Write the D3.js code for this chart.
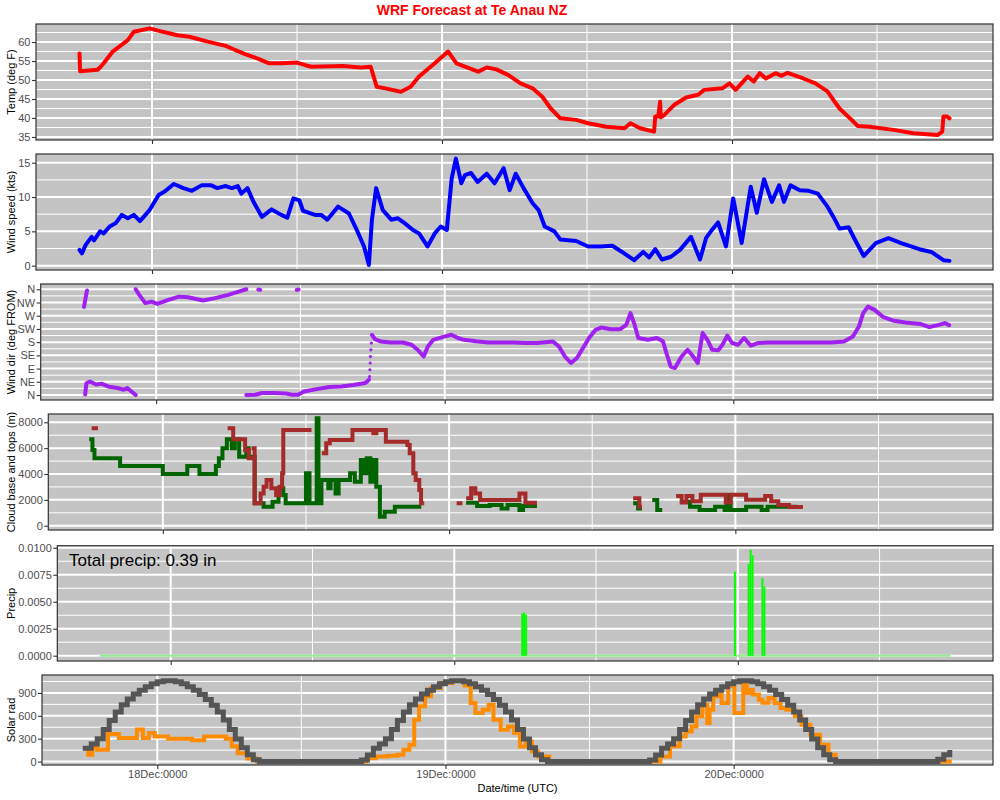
<!DOCTYPE html>
<html><head><meta charset="utf-8">
<script src="https://cdn.jsdelivr.net/npm/d3@7"></script>
<style>body{margin:0;background:#fff}svg{display:block}</style>
</head><body><svg id="c" width="1000" height="800"></svg>
<script>
// ---------- DATA (hours after 17Dec 18:00 UTC) ----------
const titleText = "WRF Forecast at Te Anau NZ";
const xTickHours = [6, 30, 54];
const xMinorHours = [18, 42, 66];
const xTickLabels = ["18Dec:0000", "19Dec:0000", "20Dec:0000"];
const xTitle = "Date/time (UTC)";
const precipNote = "Total precip: 0.39 in";

const tempTicks = [35, 40, 45, 50, 55, 60];
const windTicks = [0, 5, 10, 15];
const dirTicks = [0, 45, 90, 135, 180, 225, 270, 315, 360];
const dirLabels = ["N", "NE", "E", "SE", "S", "SW", "W", "NW", "N"];
const cloudTicks = [0, 2000, 4000, 6000, 8000];
const precipTicks = [0, 0.0025, 0.005, 0.0075, 0.01];
const solarTicks = [0, 300, 600, 900];

const tempF = [[0,57.0],[0.05,52.3],[1.5,52.7],[1.75,53.5],[2.0,54.4],[2.75,57.5],[4.0,60.5],[4.5,62.7],[5.8,63.6],[6.5,63.0],[8.1,61.8],[9.1,61.4],[10.6,60.1],[12.1,59.0],[12.6,58.3],[13.7,56.8],[14.7,55.7],[15.7,54.4],[16.7,54.4],[18.0,54.6],[18.7,53.9],[19.2,53.5],[21.8,53.7],[23.3,53.3],[24.1,53.5],[24.6,48.2],[25.3,47.8],[26.6,46.9],[27.4,48.2],[28.1,50.9],[29.4,54.4],[30.5,57.5],[31.2,54.4],[31.9,53.5],[33.0,52.2],[33.7,53.3],[34.5,52.8],[35.5,51.3],[36.5,49.1],[37.5,47.8],[38.3,45.6],[39.0,42.5],[39.8,39.9],[41.1,39.5],[42.1,38.6],[43.6,37.7],[45.1,37.3],[45.6,38.6],[46.4,37.3],[47.55,36.4],[47.65,40.4],[47.9,40.4],[48.05,44.3],[48.1,40.2],[48.4,40.8],[49.2,43.4],[50.2,45.4],[51.2,46.1],[51.7,47.4],[53.2,47.8],[53.8,49.1],[54.3,47.4],[55.3,50.9],[55.8,49.6],[56.3,51.8],[56.8,50.4],[57.6,51.8],[58.1,51.1],[58.6,51.9],[59.9,50.4],[60.9,49.1],[61.9,47.0],[62.4,44.7],[62.9,42.5],[63.9,39.5],[64.4,37.9],[65.4,37.7],[67.5,36.8],[69.0,36.0],[71.0,35.5],[71.4,36.4],[71.5,40.4],[71.8,40.4],[72.0,39.9]];

const windKts = [[0,2.3],[0.2,1.8],[0.5,3.0],[1.0,4.2],[1.2,3.7],[1.7,5.0],[2.0,4.7],[2.5,5.7],[3.0,6.2],[3.5,7.4],[4.0,6.9],[4.5,7.4],[5.0,6.5],[5.8,8.1],[6.55,10.3],[7.05,10.8],[7.8,11.9],[8.6,11.3],[9.3,10.9],[10.1,11.7],[10.9,11.7],[11.4,11.3],[12.1,11.6],[12.6,11.3],[13.1,11.6],[13.4,10.5],[13.9,11.3],[14.4,9.3],[15.1,7.1],[15.9,8.2],[16.7,7.4],[17.2,7.0],[17.7,9.8],[18.2,9.5],[18.5,8.0],[19.0,7.7],[19.5,7.4],[20.0,7.4],[20.5,6.7],[21.4,8.6],[22.3,7.6],[23.0,5.0],[23.55,2.8],[23.95,0.1],[24.2,6.7],[24.55,11.3],[25.1,8.1],[25.8,6.7],[26.35,6.9],[26.9,6.2],[27.6,5.2],[28.1,4.7],[28.8,2.8],[29.4,4.7],[29.9,5.7],[30.4,5.2],[30.8,12.7],[31.15,15.6],[31.6,12.0],[31.9,13.2],[32.4,13.5],[32.95,12.2],[33.7,13.4],[34.35,12.0],[35.1,14.2],[35.6,11.0],[36.1,13.4],[36.75,11.3],[37.5,9.1],[38.0,8.1],[38.5,5.7],[39.3,5.0],[39.8,3.8],[41.1,3.6],[42.1,2.8],[43.1,2.8],[44.1,2.9],[44.9,2.0],[45.9,0.8],[46.65,2.0],[47.15,1.2],[47.65,2.4],[48.2,0.9],[48.95,1.3],[49.7,2.3],[50.6,4.2],[51.35,0.9],[51.85,4.0],[52.25,5.0],[52.85,6.3],[53.5,2.8],[54.1,9.8],[54.8,3.3],[55.55,11.5],[56.05,7.7],[56.65,12.6],[57.3,9.3],[57.9,11.7],[58.3,9.3],[58.85,11.7],[59.6,11.0],[60.35,10.9],[61.1,10.5],[61.9,8.6],[62.4,7.1],[62.9,5.4],[63.65,5.6],[64.2,3.7],[64.9,1.4],[65.9,3.3],[66.95,4.0],[68.0,3.3],[69.5,2.4],[70.5,2.0],[71.5,0.8],[72.0,0.7]];

// wind direction (deg FROM); null breaks the line where it wraps N
const windDir = [[0.0,300],[0.25,356],[0.25,null],
 [0.1,2],[0.2,40],[0.5,46],[1.0,36],[1.5,38],[2.1,28],[2.8,24],[3.3,18],[3.6,24],[4.1,7],[4.3,0],[4.3,null],
 [4.3,360],[4.6,341],[5.1,313],[5.6,318],[6.1,310],[6.9,322],[7.9,335],[8.65,333],[9.9,322],[10.9,330],[12.0,341],[13.0,354],[13.5,360],[13.5,null],
 [14.5,359],[14.65,358],[14.65,null],[17.7,358],[17.85,359],[17.85,null],
 [13.5,0],[14.25,1],[14.8,7],[15.8,7],[16.8,5],[17.3,1],[17.8,1],[18.3,12],[19.35,20],[20.4,27],[21.4,29],[22.4,34],[23.4,41],[23.7,52],[23.7,null],
 [23.95,205],[24.2,190],[24.7,182],[25.5,179],[26.5,179],[27.25,171],[27.75,154],[28.25,131],[28.6,165],[29.05,188],[29.8,197],[30.55,205],[31.1,194],[31.6,188],[32.6,183],[33.6,179],[35.7,179],[36.7,177],[37.7,177],[39.0,182],[39.5,165],[40.0,131],[40.5,109],[41.0,126],[41.5,160],[42.0,194],[42.55,222],[43.05,230],[43.8,224],[44.6,224],[45.1,239],[45.45,279],[45.75,245],[46.1,194],[46.9,188],[47.65,194],[48.15,183],[48.4,148],[48.8,97],[49.15,92],[49.7,131],[50.2,154],[50.55,137],[51.05,109],[51.45,211],[51.85,188],[52.25,154],[52.75,152],[53.1,171],[53.5,202],[53.9,177],[54.4,171],[54.9,194],[55.45,168],[56.05,177],[57.05,179],[59.6,179],[62.2,179],[63.2,182],[63.95,199],[64.45,233],[64.8,279],[65.2,301],[65.75,290],[66.5,265],[67.25,254],[68.3,247],[69.55,242],[70.3,231],[71.1,239],[71.6,245],[71.95,238]];
const windDirDots = [[23.75,63],[23.78,86],[23.8,109],[23.83,131],[23.86,154],[23.9,177]];

const cloudBase = [[0.0,6680],[0.1,5860],[0.27,5210],[2.42,4620],[6.0,4000],[8.05,4620],[9.07,4000],[10.45,4620],[10.7,5210],[11.0,5990],[11.37,6680],[11.78,5990],[12.04,6680],[12.4,5340],[13.0,5990],[13.2,5340],[13.7,1730],[14.45,1470],[15.2,1860],[15.7,2890],[16.1,2370],[16.3,1730],[18.0,4050],[18.3,1730],[18.9,8310],[19.05,1730],[19.3,3530],[19.87,2890],[20.07,3530],[20.48,2500],[20.74,3530],[21.7,4050],[22.1,3410],[22.6,5080],[22.9,4050],[23.1,5210],[23.4,3410],[23.65,5080],[23.9,3020],[24.2,700],[24.6,1080],[25.45,1470],[27.5,1470],[27.5,null],
 [31.6,1780],[32.35,1520],[33.4,1600],[34.4,1340],[34.9,1600],[35.9,1210],[36.2,1520],[37.2,1520],[37.2,null],
 [45.6,1730],[45.85,1340],[46.0,1340],[46.0,null],
 [47.2,1990],[47.45,1210],[47.7,1210],[47.7,null],
 [49.75,1860],[50.2,1470],[51.0,1210],[52.3,1470],[53.1,1210],[53.3,2370],[53.6,1210],[54.9,1470],[56.2,1210],[56.7,1470],[59.0,1470]];

const cloudTop = [[0.2,7530],[0.4,7530],[0.4,null],
 [11.6,7530],[11.9,6680],[12.9,5860],[13.2,5210],[13.4,5210],[13.4,null],
 [13.6,5990],[13.7,1730],[14.2,2500],[14.45,3020],[14.7,3530],[15.1,2890],[15.5,2370],[15.8,3020],[16.0,4050],[16.1,7400],[18.3,7400],[18.3,null],
 [19.5,5600],[19.7,6370],[20.0,6630],[21.9,7400],[23.65,7150],[23.9,7400],[24.7,6500],[26.5,6240],[26.7,5600],[27.0,4050],[27.2,3530],[27.5,2760],[27.65,1730],[27.75,1730],[27.75,null],
 [30.8,1730],[30.95,1730],[30.95,null],
 [31.6,2120],[31.85,2890],[32.2,2500],[32.6,1990],[35.9,2500],[36.4,1780],[37.2,1780],[37.2,null],
 [45.6,2120],[45.95,1470],[46.0,1470],[46.0,null],
 [49.2,2300],[49.5,1800],[49.9,2300],[50.4,1900],[51.1,2400],[53.2,1800],[53.6,2400],[54.6,2400],[54.9,2000],[56.2,2000],[56.5,2300],[57.0,1900],[57.6,1600],[58.5,1450],[59.5,1450]];

const precipBars = [[35.67,0.0039],[35.83,0.0040],[36.0,0.0038],[53.67,0.0078],[54.83,0.0085],[55.0,0.0098],[55.17,0.0093],[56.0,0.0072],[56.17,0.0064]];
const precipSpan = [0, 72];

// clear-sky radiation, 30-minute steps from hour 0
const solarClear = [175,230,300,420,540,650,745,820,885,935,980,1020,1045,1060,1060,1045,1020,980,935,880,815,740,650,545,420,295,180,90,25,0,0,0,0,0,0,0,0,0,0,0,0,0,0,0,0,0,20,85,
 175,230,300,420,540,650,745,820,885,935,980,1020,1045,1060,1060,1045,1020,980,935,880,815,740,650,545,420,295,180,90,25,0,0,0,0,0,0,0,0,0,0,0,0,0,0,0,0,0,20,85,
 175,230,300,420,540,650,745,820,885,935,980,1020,1045,1060,1060,1045,1020,980,935,880,815,740,650,545,420,295,180,90,25,0,0,0,0,0,0,0,0,0,0,0,0,0,0,0,0,0,30,90,
 120];
const solarFcst = [[0,175],[0.25,90],[0.6,180],[1.0,155],[1.9,360],[2.8,310],[4.3,420],[4.8,310],[5.3,375],[5.8,330],[6.9,300],[8.9,280],[9.9,330],[11.7,300],[12.2,200],[12.7,110],[13.5,40],[14.3,0],
 [22.9,0],[23.4,44],[24.2,66],[25.2,75],[26.0,88],[26.5,154],[27.0,220],[27.4,549],[27.8,724],[28.3,856],[28.8,966],[29.6,1031],[30.6,1060],[31.6,997],[32.1,768],[32.5,637],[33.1,680],[33.6,746],[34.0,549],[34.6,417],[35.2,461],[35.7,373],[36.2,198],[36.7,263],[37.2,132],[37.7,66],[38.65,0],
 [46.9,0],[47.9,66],[48.7,200],[49.5,330],[50.0,395],[50.5,460],[50.9,593],[51.4,746],[51.8,505],[52.0,680],[52.3,856],[52.8,878],[53.0,768],[53.55,1010],[53.8,990],[54.06,637],[54.6,637],[54.8,1031],[55.1,900],[55.4,940],[55.6,878],[56.1,812],[56.4,770],[56.9,834],[57.4,768],[57.9,702],[58.4,680],[59.1,593],[59.65,483],[60.4,351],[61.2,220],[61.9,88],[62.5,0],[72,0]];

// ---------- DRAWING ----------
const FONT = '"Liberation Sans", Arial, Helvetica, sans-serif';
const BG = '#C4C4C4';
const R = 993;
const XDOM = [-3.6, 75.6];
const svg = d3.select('#c');

svg.append('text').attr('x', 472).attr('y', 15).attr('text-anchor', 'middle')
  .attr('font-family', FONT).attr('font-weight', 'bold').attr('font-size', 14)
  .attr('fill', '#FF0000').text(titleText);

function minorOf(t) { const m = []; for (let i = 0; i < t.length - 1; i++) m.push((t[i] + t[i+1]) / 2); m.push(t[t.length-1] + (t[1]-t[0])/2); m.unshift(t[0] - (t[1]-t[0])/2); return m; }

function linePath(g, data, x, y, color, width, curve) {
  const ln = d3.line().defined(d => d[1] !== null).x(d => x(d[0])).y(d => y(d[1]));
  if (curve) ln.curve(curve);
  g.append('path').attr('d', ln(data)).attr('fill', 'none').attr('stroke', color)
    .attr('stroke-width', width)
    .attr('stroke-linejoin', curve ? 'miter' : 'round')
    .attr('stroke-linecap', curve ? 'square' : 'round');
}

const panels = [
  {left: 36, top: 24, bottom: 140, dom: [34.2, 64.75], ticks: tempTicks, fmt: d => d, label: 'Temp (deg F)',
   draw: (g, x, y) => linePath(g, tempF, x, y, '#FF0000', 4)},
  {left: 36, top: 154, bottom: 270, dom: [-0.63, 16.27], ticks: windTicks, fmt: d => d, label: 'Wind speed (kts)',
   draw: (g, x, y) => linePath(g, windKts, x, y, '#0000FF', 4)},
  {left: 40.7, top: 284, bottom: 400, dom: [-17, 378], ticks: dirTicks, fmt: (d, i) => dirLabels[i], label: 'Wind dir (deg FROM)',
   draw: (g, x, y) => {
     linePath(g, windDir, x, y, '#A020F0', 4);
     g.selectAll('circle.dd').data(windDirDots).join('circle').attr('cx', d => x(d[0])).attr('cy', d => y(d[1]))
       .attr('r', 1.6).attr('fill', '#A020F0');
   }},
  {left: 48.3, top: 414, bottom: 530, dom: [-330, 8640], ticks: cloudTicks, fmt: d => d, label: 'Cloud base and tops (m)',
   draw: (g, x, y) => {
     linePath(g, cloudBase, x, y, '#006400', 4, d3.curveStepAfter);
     linePath(g, cloudTop, x, y, '#A52A2A', 4, d3.curveStepAfter);
   }},
  {left: 57.3, top: 545.7, bottom: 661, dom: [-0.00049, 0.01019], ticks: precipTicks, fmt: d3.format('.4f'), label: 'Precip',
   draw: (g, x, y) => {
     g.append('line').attr('x1', x(precipSpan[0])).attr('x2', x(precipSpan[1])).attr('y1', y(0)).attr('y2', y(0))
       .attr('stroke', '#90EE90').attr('stroke-width', 2);
     g.selectAll('rect.pb').data(precipBars).join('rect').attr('x', d => x(d[0])).attr('width', d => x(d[0] + 1/6) - x(d[0]))
       .attr('y', d => y(d[1])).attr('height', d => y(0) - y(d[1])).attr('fill', '#00FF00');
     g.append('text').attr('x', 69).attr('y', 566).attr('font-family', FONT).attr('font-size', 17).attr('fill', '#000').text(precipNote);
   }},
  {left: 42, top: 675, bottom: 765, dom: [-45, 1135], ticks: solarTicks, fmt: d => d, label: 'Solar rad', showX: true,
   draw: (g, x, y) => {
     linePath(g, solarFcst, x, y, '#FF8C00', 4, d3.curveStepAfter);
     const clr = solarClear.map((v, i) => [i * 0.5, v]);
     linePath(g, clr, x, y, '#555555', 5, d3.curveStepAfter);
   }}
];

panels.forEach(p => {
  const x = d3.scaleLinear().domain(XDOM).range([p.left, R]);
  const y = d3.scaleLinear().domain(p.dom).range([p.bottom, p.top]);
  const g = svg.append('g');
  const W = R - p.left, H = p.bottom - p.top;
  g.append('rect').attr('x', p.left).attr('y', p.top).attr('width', W).attr('height', H).attr('fill', BG);
  const hmin = minorOf(p.ticks).filter(v => v > p.dom[0] && v < p.dom[1]);
  g.selectAll('line.hm').data(hmin).join('line').attr('x1', p.left).attr('x2', R)
    .attr('y1', d => y(d)).attr('y2', d => y(d)).attr('stroke', '#fff').attr('stroke-width', 1);
  g.selectAll('line.vm').data(xMinorHours).join('line').attr('y1', p.top).attr('y2', p.bottom)
    .attr('x1', d => x(d)).attr('x2', d => x(d)).attr('stroke', '#fff').attr('stroke-width', 1);
  g.selectAll('line.hM').data(p.ticks).join('line').attr('x1', p.left).attr('x2', R)
    .attr('y1', d => y(d)).attr('y2', d => y(d)).attr('stroke', '#fff').attr('stroke-width', 2);
  g.selectAll('line.vM').data(xTickHours).join('line').attr('y1', p.top).attr('y2', p.bottom)
    .attr('x1', d => x(d)).attr('x2', d => x(d)).attr('stroke', '#fff').attr('stroke-width', 2);
  p.draw(g, x, y);
  g.append('rect').attr('x', p.left).attr('y', p.top).attr('width', W).attr('height', H)
    .attr('fill', 'none').attr('stroke', '#333333').attr('stroke-width', 1.2);

  const ya = g.append('g').attr('transform', `translate(${p.left},0)`)
    .call(d3.axisLeft(y).tickValues(p.ticks).tickFormat(p.fmt).tickSize(4).tickPadding(1.5));
  ya.select('.domain').remove();
  ya.attr('font-family', FONT).attr('font-size', 11);
  ya.selectAll('line').attr('stroke', '#333333').attr('stroke-width', 1.1);
  ya.selectAll('text').attr('fill', '#4D4D4D');

  const xa = g.append('g').attr('transform', `translate(0,${p.bottom})`)
    .call(d3.axisBottom(x).tickValues(xTickHours).tickSize(4).tickPadding(1)
      .tickFormat((d, i) => p.showX ? xTickLabels[i] : ''));
  xa.select('.domain').remove();
  xa.attr('font-family', FONT).attr('font-size', 11);
  xa.selectAll('line').attr('stroke', '#333333').attr('stroke-width', 1.1);
  xa.selectAll('text').attr('fill', '#4D4D4D');

  svg.append('text').attr('transform', `translate(15,${(p.top + p.bottom) / 2}) rotate(-90)`)
    .attr('text-anchor', 'middle').attr('font-family', FONT).attr('font-size', 11).attr('fill', '#000').text(p.label);

  if (p.showX) {
    svg.append('text').attr('x', (p.left + R) / 2).attr('y', 792).attr('text-anchor', 'middle')
      .attr('font-family', FONT).attr('font-size', 11).attr('fill', '#000').text(xTitle);
  }
});
</script></body></html>
